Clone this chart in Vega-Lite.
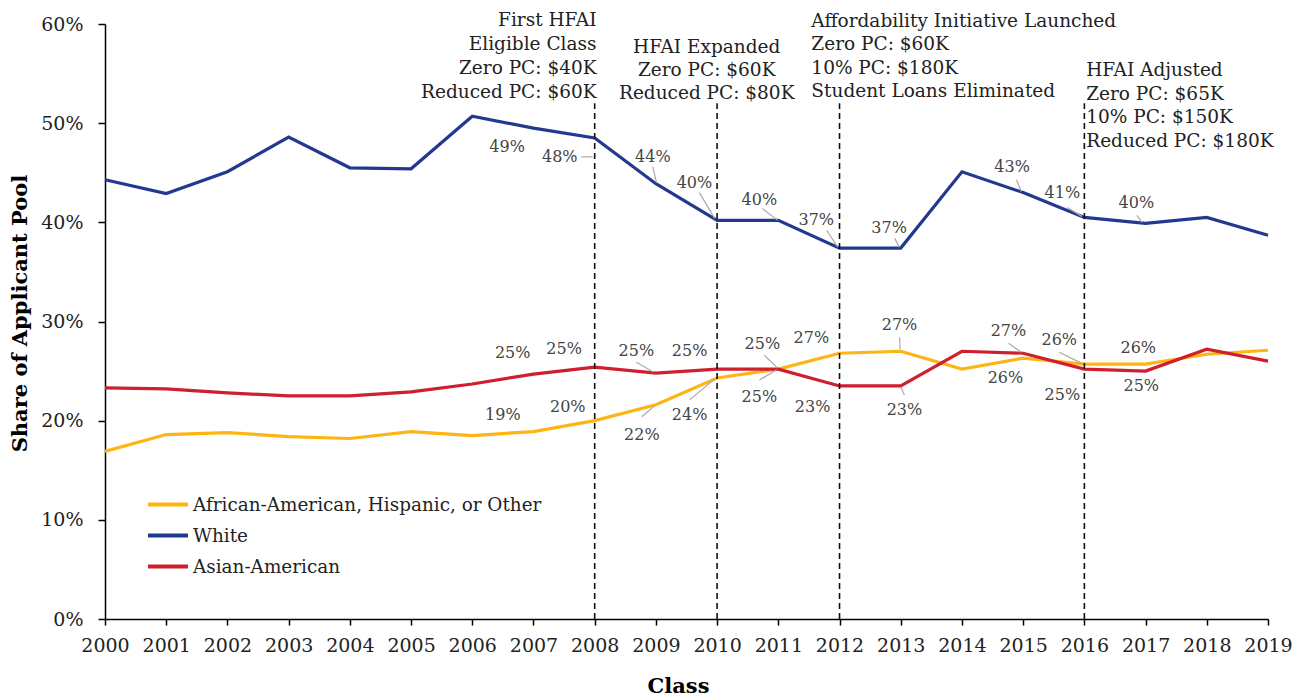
{
  "$schema": "https://vega.github.io/schema/vega-lite/v6.json",
  "width": 1163,
  "height": 595,
  "autosize": {"type": "none"},
  "padding": {"left": 105, "top": 24, "right": 35, "bottom": 79},
  "config": {
    "font": "DejaVu Serif",
    "view": {"stroke": null},
    "axis": {"domainColor": "#000", "domainWidth": 1.5, "tickColor": "#000", "tickWidth": 1.5, "labelColor": "#222", "titleColor": "#000", "grid": false}
  },
  "datasets": {
    "shares": [
      {"year": 2000, "group": "White", "share": 44.3},
      {"year": 2001, "group": "White", "share": 42.9},
      {"year": 2002, "group": "White", "share": 45.1},
      {"year": 2003, "group": "White", "share": 48.6},
      {"year": 2004, "group": "White", "share": 45.5},
      {"year": 2005, "group": "White", "share": 45.4},
      {"year": 2006, "group": "White", "share": 50.7},
      {"year": 2007, "group": "White", "share": 49.5},
      {"year": 2008, "group": "White", "share": 48.5},
      {"year": 2009, "group": "White", "share": 43.9},
      {"year": 2010, "group": "White", "share": 40.2},
      {"year": 2011, "group": "White", "share": 40.2},
      {"year": 2012, "group": "White", "share": 37.4},
      {"year": 2013, "group": "White", "share": 37.4},
      {"year": 2014, "group": "White", "share": 45.1},
      {"year": 2015, "group": "White", "share": 43.0},
      {"year": 2016, "group": "White", "share": 40.5},
      {"year": 2017, "group": "White", "share": 39.9},
      {"year": 2018, "group": "White", "share": 40.5},
      {"year": 2019, "group": "White", "share": 38.7},
      {"year": 2000, "group": "African-American, Hispanic, or Other", "share": 16.9},
      {"year": 2001, "group": "African-American, Hispanic, or Other", "share": 18.6},
      {"year": 2002, "group": "African-American, Hispanic, or Other", "share": 18.8},
      {"year": 2003, "group": "African-American, Hispanic, or Other", "share": 18.4},
      {"year": 2004, "group": "African-American, Hispanic, or Other", "share": 18.2},
      {"year": 2005, "group": "African-American, Hispanic, or Other", "share": 18.9},
      {"year": 2006, "group": "African-American, Hispanic, or Other", "share": 18.5},
      {"year": 2007, "group": "African-American, Hispanic, or Other", "share": 18.9},
      {"year": 2008, "group": "African-American, Hispanic, or Other", "share": 20.0},
      {"year": 2009, "group": "African-American, Hispanic, or Other", "share": 21.6},
      {"year": 2010, "group": "African-American, Hispanic, or Other", "share": 24.3},
      {"year": 2011, "group": "African-American, Hispanic, or Other", "share": 25.2},
      {"year": 2012, "group": "African-American, Hispanic, or Other", "share": 26.8},
      {"year": 2013, "group": "African-American, Hispanic, or Other", "share": 27.0},
      {"year": 2014, "group": "African-American, Hispanic, or Other", "share": 25.2},
      {"year": 2015, "group": "African-American, Hispanic, or Other", "share": 26.3},
      {"year": 2016, "group": "African-American, Hispanic, or Other", "share": 25.7},
      {"year": 2017, "group": "African-American, Hispanic, or Other", "share": 25.7},
      {"year": 2018, "group": "African-American, Hispanic, or Other", "share": 26.7},
      {"year": 2019, "group": "African-American, Hispanic, or Other", "share": 27.1},
      {"year": 2000, "group": "Asian-American", "share": 23.3},
      {"year": 2001, "group": "Asian-American", "share": 23.2},
      {"year": 2002, "group": "Asian-American", "share": 22.8},
      {"year": 2003, "group": "Asian-American", "share": 22.5},
      {"year": 2004, "group": "Asian-American", "share": 22.5},
      {"year": 2005, "group": "Asian-American", "share": 22.9},
      {"year": 2006, "group": "Asian-American", "share": 23.7},
      {"year": 2007, "group": "Asian-American", "share": 24.7},
      {"year": 2008, "group": "Asian-American", "share": 25.4},
      {"year": 2009, "group": "Asian-American", "share": 24.8},
      {"year": 2010, "group": "Asian-American", "share": 25.2},
      {"year": 2011, "group": "Asian-American", "share": 25.2},
      {"year": 2012, "group": "Asian-American", "share": 23.5},
      {"year": 2013, "group": "Asian-American", "share": 23.5},
      {"year": 2014, "group": "Asian-American", "share": 27.0},
      {"year": 2015, "group": "Asian-American", "share": 26.8},
      {"year": 2016, "group": "Asian-American", "share": 25.2},
      {"year": 2017, "group": "Asian-American", "share": 25.0},
      {"year": 2018, "group": "Asian-American", "share": 27.2},
      {"year": 2019, "group": "Asian-American", "share": 26.0}
    ],
    "labels": [
      {"label": "49%", "tx": 2006.57, "ty": 47.6},
      {"label": "48%", "tx": 2007.43, "ty": 46.6, "lx1": 2007.78, "ly1": 46.6, "lx2": 2007.97, "ly2": 46.6},
      {"label": "44%", "tx": 2008.95, "ty": 46.6, "lx1": 2008.95, "ly1": 45.6, "lx2": 2009.01, "ly2": 44.0},
      {"label": "40%", "tx": 2009.63, "ty": 44.0, "lx1": 2009.71, "ly1": 43.0, "lx2": 2009.96, "ly2": 40.4},
      {"label": "40%", "tx": 2010.69, "ty": 42.3, "lx1": 2010.74, "ly1": 41.4, "lx2": 2010.99, "ly2": 40.2},
      {"label": "37%", "tx": 2011.62, "ty": 40.2, "lx1": 2011.79, "ly1": 39.2, "lx2": 2011.97, "ly2": 37.5},
      {"label": "37%", "tx": 2012.81, "ty": 39.4, "lx1": 2012.9, "ly1": 38.4, "lx2": 2012.98, "ly2": 37.5},
      {"label": "43%", "tx": 2014.82, "ty": 45.6, "lx1": 2014.89, "ly1": 44.3, "lx2": 2014.97, "ly2": 43.1},
      {"label": "41%", "tx": 2015.64, "ty": 43.0, "lx1": 2015.72, "ly1": 41.5, "lx2": 2015.96, "ly2": 40.6},
      {"label": "40%", "tx": 2016.85, "ty": 42.0, "lx1": 2016.86, "ly1": 40.7, "lx2": 2016.94, "ly2": 40.0},
      {"label": "25%", "tx": 2006.66, "ty": 26.8},
      {"label": "25%", "tx": 2007.5, "ty": 27.2},
      {"label": "25%", "tx": 2008.68, "ty": 27.0, "lx1": 2008.68, "ly1": 25.9, "lx2": 2008.96, "ly2": 24.9},
      {"label": "25%", "tx": 2009.55, "ty": 27.0},
      {"label": "25%", "tx": 2010.74, "ty": 27.7, "lx1": 2010.77, "ly1": 26.6, "lx2": 2010.99, "ly2": 25.3},
      {"label": "23%", "tx": 2011.56, "ty": 21.4},
      {"label": "23%", "tx": 2013.06, "ty": 21.1, "lx1": 2013.0, "ly1": 23.4, "lx2": 2013.06, "ly2": 22.6},
      {"label": "27%", "tx": 2014.76, "ty": 29.0, "lx1": 2014.76, "ly1": 27.8, "lx2": 2014.97, "ly2": 26.9},
      {"label": "25%", "tx": 2015.64, "ty": 22.6},
      {"label": "25%", "tx": 2016.93, "ty": 23.5},
      {"label": "19%", "tx": 2006.5, "ty": 20.6},
      {"label": "20%", "tx": 2007.56, "ty": 21.4},
      {"label": "22%", "tx": 2008.77, "ty": 18.6, "lx1": 2008.77, "ly1": 20.4, "lx2": 2008.98, "ly2": 21.5},
      {"label": "24%", "tx": 2009.55, "ty": 20.6, "lx1": 2009.55, "ly1": 22.1, "lx2": 2009.96, "ly2": 24.2},
      {"label": "25%", "tx": 2010.69, "ty": 22.4, "lx1": 2010.69, "ly1": 24.1, "lx2": 2010.97, "ly2": 25.1},
      {"label": "27%", "tx": 2011.54, "ty": 28.3},
      {"label": "27%", "tx": 2012.98, "ty": 29.6, "lx1": 2012.98, "ly1": 28.4, "lx2": 2012.99, "ly2": 27.2},
      {"label": "26%", "tx": 2014.71, "ty": 24.3},
      {"label": "26%", "tx": 2015.59, "ty": 28.1, "lx1": 2015.59, "ly1": 26.9, "lx2": 2015.95, "ly2": 25.8},
      {"label": "26%", "tx": 2016.88, "ty": 27.3}
    ],
    "events": [
      {"event": "first", "year": 2008, "bottom": 0, "top": 52, "tx": 2008.03, "ty": 59.8, "text": ["First HFAI", "Eligible Class", "Zero PC: $40K", "Reduced PC: $60K"]},
      {"event": "expanded", "year": 2010, "bottom": 0, "top": 52, "tx": 2009.83, "ty": 57.05, "text": ["HFAI Expanded", "Zero PC: $60K", "Reduced PC: $80K"]},
      {"event": "afford", "year": 2012, "bottom": 0, "top": 52, "tx": 2011.54, "ty": 59.7, "text": ["Affordability Initiative Launched", "Zero PC: $60K", "10% PC: $180K", "Student Loans Eliminated"]},
      {"event": "adjusted", "year": 2016, "bottom": 0, "top": 52, "tx": 2016.03, "ty": 54.75, "text": ["HFAI Adjusted", "Zero PC: $65K", "10% PC: $150K", "Reduced PC: $180K"]}
    ]
  },
  "layer": [
    {
      "data": {"name": "shares"},
      "mark": {"type": "line", "strokeWidth": 3.2},
      "encoding": {
        "x": {
          "field": "year", "type": "quantitative", "title": "Class",
          "scale": {"domain": [2000, 2019], "nice": false, "zero": false},
          "axis": {"values": [2000,2001,2002,2003,2004,2005,2006,2007,2008,2009,2010,2011,2012,2013,2014,2015,2016,2017,2018,2019], "format": "d", "labelFontSize": 19, "labelPadding": 11, "tickSize": 6, "titleFontSize": 21, "titleFontWeight": "bold", "titleX": 573, "titleAlign": "center", "titleY": 67, "titleBaseline": "middle", "labelFlush": false, "labelOverlap": false}
        },
        "y": {
          "field": "share", "type": "quantitative", "title": "Share of Applicant Pool",
          "scale": {"domain": [0, 60], "nice": false},
          "axis": {"values": [0, 10, 20, 30, 40, 50, 60], "labelExpr": "datum.value + '%'", "labelFontSize": 19, "labelPadding": 15, "tickSize": 7, "titleFontSize": 21, "titleFontWeight": "bold", "titleX": -85, "titleY": 289, "titleAngle": -90, "titleAlign": "center", "titleBaseline": "middle", "labelFlush": false}
        },
        "color": {
          "field": "group", "type": "nominal",
          "scale": {"domain": ["African-American, Hispanic, or Other", "White", "Asian-American"], "range": ["#FDB515", "#22398F", "#CF1F2E"]},
          "legend": {"title": null, "orient": "none", "legendX": 41, "legendY": 468, "symbolType": "stroke", "symbolSize": 1600, "symbolStrokeWidth": 4, "labelFontSize": 18.4, "labelColor": "#222", "rowPadding": 6, "clipHeight": 25, "labelOffset": 3, "labelLimit": 500}
        }
      }
    },
    {
      "data": {"name": "events"},
      "mark": {"type": "rule", "strokeDash": [6, 4], "strokeWidth": 1.6, "color": "#111"},
      "encoding": {
        "x": {"field": "year", "type": "quantitative"},
        "y": {"field": "bottom", "type": "quantitative"},
        "y2": {"field": "top"}
      }
    },
    {
      "data": {"name": "events"},
      "transform": [{"filter": "datum.event == 'first'"}],
      "mark": {"type": "text", "align": "right", "baseline": "alphabetic", "fontSize": 18.5, "lineHeight": 24, "color": "#222"},
      "encoding": {
        "x": {"field": "tx", "type": "quantitative"},
        "y": {"field": "ty", "type": "quantitative"},
        "text": {"field": "text"}
      }
    },
    {
      "data": {"name": "events"},
      "transform": [{"filter": "datum.event == 'expanded'"}],
      "mark": {"type": "text", "align": "center", "baseline": "alphabetic", "fontSize": 18.5, "lineHeight": 23, "color": "#222"},
      "encoding": {
        "x": {"field": "tx", "type": "quantitative"},
        "y": {"field": "ty", "type": "quantitative"},
        "text": {"field": "text"}
      }
    },
    {
      "data": {"name": "events"},
      "transform": [{"filter": "datum.event == 'afford' || datum.event == 'adjusted'"}],
      "mark": {"type": "text", "align": "left", "baseline": "alphabetic", "fontSize": 18.5, "lineHeight": 23.5, "color": "#222"},
      "encoding": {
        "x": {"field": "tx", "type": "quantitative"},
        "y": {"field": "ty", "type": "quantitative"},
        "text": {"field": "text"}
      }
    },
    {
      "data": {"name": "labels"},
      "transform": [{"filter": "isValid(datum.lx1)"}],
      "mark": {"type": "rule", "color": "#aaa", "strokeWidth": 1.2},
      "encoding": {
        "x": {"field": "lx1", "type": "quantitative"},
        "y": {"field": "ly1", "type": "quantitative"},
        "x2": {"field": "lx2"},
        "y2": {"field": "ly2"}
      }
    },
    {
      "data": {"name": "labels"},
      "mark": {"type": "text", "align": "center", "baseline": "middle", "fontSize": 16, "color": "#444"},
      "encoding": {
        "x": {"field": "tx", "type": "quantitative"},
        "y": {"field": "ty", "type": "quantitative"},
        "text": {"field": "label"}
      }
    }
  ]
}
